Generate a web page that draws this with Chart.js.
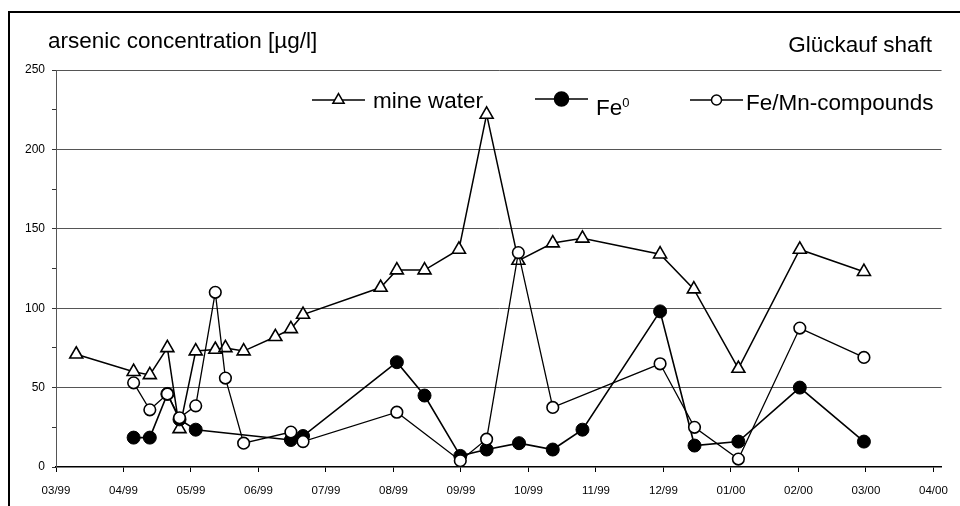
<!DOCTYPE html>
<html>
<head>
<meta charset="utf-8">
<script src="https://cdn.jsdelivr.net/npm/chart.js"></script>
<style>
    body { margin: 0; background: #fff; }
    #wrap { position: relative; width: 960px; height: 506px; }
</style>
</head>
<body>
<div id="wrap"><canvas id="chart" width="960" height="506"></canvas></div>
<script>
    // x = months counted from the start of 03/99
    var monthLabels = ['03/99', '04/99', '05/99', '06/99', '07/99', '08/99', '09/99',
                       '10/99', '11/99', '12/99', '01/00', '02/00', '03/00', '04/00'];

    var mineX = [0.30, 1.15, 1.39, 1.65, 1.83, 2.07, 2.36, 2.51, 2.78, 3.25, 3.48, 3.66, 4.81,
                 5.05, 5.46, 5.97, 6.38, 6.85, 7.36, 7.80, 8.95, 9.45, 10.11, 11.02, 11.97];
    var mineY = [71, 60, 58, 75, 24, 73, 74, 75, 73, 82, 87, 96, 113,
                 124, 124, 137, 222, 130, 141, 144, 134, 112, 62, 137, 123];

    var fe0X = [1.15, 1.39, 1.65, 1.83, 2.07, 3.48, 3.66, 5.05, 5.46, 5.99, 6.38, 6.86, 7.36,
                7.80, 8.95, 9.46, 10.11, 11.02, 11.97];
    var fe0Y = [18.5, 18.5, 46, 30, 23.5, 17, 19.5, 66, 45, 7, 11, 15, 11,
                23.5, 98, 13.5, 16, 50, 16];

    var femnX = [1.15, 1.39, 1.65, 1.83, 2.07, 2.36, 2.51, 2.78, 3.48, 3.66, 5.05, 5.99, 6.38,
                 6.85, 7.36, 8.95, 9.46, 10.11, 11.02, 11.97];
    var femnY = [53, 36, 46, 31, 38.5, 110, 56, 15, 22, 16, 34.5, 4, 17.5,
                 135, 37.5, 65, 25, 5, 87.5, 69];

    var FONT = '"Liberation Sans", Arial, sans-serif';

    function toPoints(xs, ys) {
        return xs.map(function (x, i) { return { x: x, y: ys[i] }; });
    }

    // frame, titles and the legend row
    var decor = {
        id: 'decor',
        beforeDraw: function (chart) {
            var ctx = chart.ctx;
            ctx.save();
            ctx.fillStyle = '#fff';
            ctx.fillRect(0, 0, chart.width, chart.height);
            ctx.strokeStyle = '#000';
            ctx.lineWidth = 2;
            ctx.strokeRect(9, 12, 1000, 1000);
            ctx.fillStyle = '#000';
            ctx.font = '22.5px ' + FONT;
            ctx.textBaseline = 'alphabetic';
            ctx.textAlign = 'left';
            ctx.fillText('arsenic concentration [\u00b5g/l]', 48, 48);
            ctx.textAlign = 'right';
            ctx.fillText('Gl\u00fcckauf shaft', 932, 52);
            ctx.restore();
        },
        beforeDatasetsDraw: function (chart) {
            var ctx = chart.ctx;
            var items = [
                { x1: 312, x2: 365, y: 100, style: 'triangle', r: 6.5, fill: '#fff', text: 'mine water', tx: 373, ty: 108 },
                { x1: 535, x2: 588, y: 99, style: 'circle', r: 7, fill: '#000', text: 'Fe', tx: 596, ty: 115 },
                { x1: 690, x2: 743, y: 100, style: 'circle', r: 5, fill: '#fff', text: 'Fe/Mn-compounds', tx: 746, ty: 110 }
            ];
            ctx.save();
            items.forEach(function (it) {
                ctx.strokeStyle = '#000';
                ctx.lineWidth = 1.5;
                ctx.beginPath();
                ctx.moveTo(it.x1, it.y);
                ctx.lineTo(it.x2, it.y);
                ctx.stroke();
                ctx.fillStyle = it.fill;
                Chart.helpers.drawPoint(ctx, { pointStyle: it.style, radius: it.r, rotation: 0, borderWidth: 1.5 },
                    (it.x1 + it.x2) / 2, it.y);
                ctx.fillStyle = '#000';
                ctx.font = '22.5px ' + FONT;
                ctx.textAlign = 'left';
                ctx.fillText(it.text, it.tx, it.ty);
                if (it.text === 'Fe') {
                    var w = ctx.measureText('Fe').width;
                    ctx.font = '13px ' + FONT;
                    ctx.fillText('0', it.tx + w, it.ty - 8);
                }
            });
            ctx.restore();
        }
    };

    var ctx = document.getElementById('chart').getContext('2d');
    var chart = new Chart(ctx, {
        type: 'line',
        data: {
            datasets: [{
                label: 'mine water',
                data: toPoints(mineX, mineY),
                borderColor: '#000',
                borderWidth: 1.5,
                pointStyle: 'triangle',
                pointRadius: 7.5,
                pointBorderWidth: 1.6,
                pointBackgroundColor: '#fff',
                pointBorderColor: '#000',
                order: 3
            }, {
                label: 'Fe0',
                data: toPoints(fe0X, fe0Y),
                borderColor: '#000',
                borderWidth: 1.6,
                pointStyle: 'circle',
                pointRadius: 6.5,
                pointBorderWidth: 1,
                pointBackgroundColor: '#000',
                pointBorderColor: '#000',
                order: 2
            }, {
                label: 'Fe/Mn-compounds',
                data: toPoints(femnX, femnY),
                borderColor: '#000',
                borderWidth: 1.3,
                pointStyle: 'circle',
                pointRadius: 5.8,
                pointBorderWidth: 1.6,
                pointBackgroundColor: '#fff',
                pointBorderColor: '#000',
                order: 1
            }]
        },
        options: {
            responsive: false,
            animation: false,
            layout: { padding: { top: 70, left: 8, right: 18, bottom: 0 } },
            plugins: {
                legend: { display: false },
                tooltip: { enabled: false }
            },
            scales: {
                x: {
                    type: 'linear',
                    min: 0,
                    max: 13.12,
                    afterBuildTicks: function (scale) {
                        scale.ticks = monthLabels.map(function (l, i) { return { value: i }; });
                    },
                    afterFit: function (scale) { scale.height = 39; },
                    ticks: {
                        callback: function (v) { return monthLabels[v]; },
                        font: { size: 11.5, family: FONT },
                        color: '#000',
                        padding: 12,
                        maxRotation: 0,
                        autoSkip: false
                    },
                    grid: { drawOnChartArea: false, tickLength: 5, tickColor: '#000' },
                    border: { color: '#000', width: 1.5 }
                },
                y: {
                    min: 0,
                    max: 250,
                    afterFit: function (scale) { scale.width = 48; },
                    ticks: {
                        stepSize: 25,
                        autoSkip: false,
                        callback: function (v) { return v % 50 === 0 ? v : ''; },
                        font: { size: 12, family: FONT },
                        color: '#000',
                        padding: 7
                    },
                    grid: {
                        color: function (c) {
                            return c.tick && c.tick.value % 50 === 0 && c.tick.value > 0 ? '#555' : 'rgba(0,0,0,0)';
                        },
                        tickColor: '#333',
                        tickLength: 4
                    },
                    border: { color: '#555', width: 1 }
                }
            }
        },
        plugins: [decor]
    });
</script>
</body>
</html>
